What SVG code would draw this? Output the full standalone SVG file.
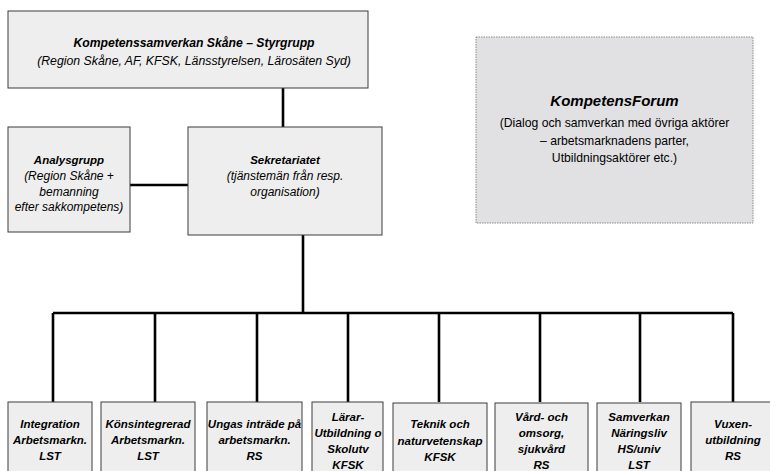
<svg xmlns="http://www.w3.org/2000/svg" width="770" height="471" viewBox="0 0 770 471">
<style>
.box{fill:#eeeeee;stroke:#3c3c3c;stroke-width:1}
.forum{fill:#e1e1e3;stroke:#8a8a8a;stroke-width:1;stroke-dasharray:1.5 1}
.conn{stroke:#000;stroke-width:2.6;fill:none}
text{font-family:"Liberation Sans",Arial,sans-serif;fill:#000;text-anchor:middle}
.b{font-weight:bold;font-style:italic;font-size:11.5px}
.i{font-style:italic;font-size:12px}
.r{font-size:12.2px}
.t{font-weight:bold;font-style:italic;font-size:15px}
</style>
<rect width="770" height="471" fill="#ffffff"/>
<g id="connectors">
<path class="conn" d="M283 88V127"/>
<path class="conn" d="M130 185H188"/>
<path class="conn" d="M303 235V313"/>
<path class="conn" d="M53 313H733"/>
<path class="conn" d="M53 313V402M155 313V402M257 313V402M348 313V402M439 313V402M540 313V402M640 313V402M733 313V402"/>
</g>
<g id="styrgrupp">
<rect class="box" x="8" y="11" width="360" height="77"/>
<text class="b" x="194" y="47" style="font-size:12.2px">Kompetenssamverkan Skåne – Styrgrupp</text>
<text class="i" x="194" y="65" style="font-size:12.3px">(Region Skåne, AF, KFSK, Länsstyrelsen, Lärosäten Syd)</text>
</g>
<g id="forum">
<rect class="forum" x="476" y="37" width="277" height="186"/>
<text class="t" x="614.5" y="106">KompetensForum</text>
<text class="r" x="614.5" y="127">(Dialog och samverkan med övriga aktörer</text>
<text class="r" x="614.5" y="145">– arbetsmarknadens parter,</text>
<text class="r" x="614.5" y="162">Utbildningsaktörer etc.)</text>
</g>
<g id="analysgrupp">
<rect class="box" x="8" y="127" width="122" height="105"/>
<text class="b" x="69" y="164">Analysgrupp</text>
<text class="i" x="69" y="180">(Region Skåne +</text>
<text class="i" x="69" y="196">bemanning</text>
<text class="i" x="69" y="211">efter sakkompetens)</text>
</g>
<g id="sekretariatet">
<rect class="box" x="188" y="127" width="194" height="108"/>
<text class="b" x="285" y="164">Sekretariatet</text>
<text class="i" x="285" y="180">(tjänstemän från resp.</text>
<text class="i" x="285" y="196">organisation)</text>
</g>
<g id="integration">
<rect class="box" x="8" y="402" width="84" height="80"/>
<text class="b" x="50" y="428">Integration</text>
<text class="b" x="50" y="444">Arbetsmarkn.</text>
<text class="b" x="50" y="460">LST</text>
</g>
<g id="konsintegrerad">
<rect class="box" x="101" y="402" width="94" height="80"/>
<text class="b" x="148" y="428">Könsintegrerad</text>
<text class="b" x="148" y="444">Arbetsmarkn.</text>
<text class="b" x="148" y="460">LST</text>
</g>
<g id="ungas">
<rect class="box" x="207" y="402" width="95" height="80"/>
<text class="b" x="254.5" y="428">Ungas inträde på</text>
<text class="b" x="254.5" y="444">arbetsmarkn.</text>
<text class="b" x="254.5" y="460">RS</text>
</g>
<g id="larar">
<rect class="box" x="312" y="402" width="71" height="80"/>
<text class="b" x="348" y="421">Lärar-</text>
<text class="b" x="348" y="437">Utbildning o</text>
<text class="b" x="348" y="453">Skolutv</text>
<text class="b" x="348" y="469">KFSK</text>
</g>
<g id="teknik">
<rect class="box" x="393" y="403" width="94" height="80"/>
<text class="b" x="440" y="428">Teknik och</text>
<text class="b" x="440" y="445">naturvetenskap</text>
<text class="b" x="440" y="461">KFSK</text>
</g>
<g id="vard">
<rect class="box" x="495" y="403" width="93" height="80"/>
<text class="b" x="541.5" y="421">Vård- och</text>
<text class="b" x="541.5" y="437">omsorg,</text>
<text class="b" x="541.5" y="453">sjukvård</text>
<text class="b" x="541.5" y="469">RS</text>
</g>
<g id="samverkan">
<rect class="box" x="597" y="403" width="84" height="80"/>
<text class="b" x="639" y="421">Samverkan</text>
<text class="b" x="639" y="437">Näringsliv</text>
<text class="b" x="639" y="453">HS/univ</text>
<text class="b" x="639" y="469">LST</text>
</g>
<g id="vuxen">
<rect class="box" x="691" y="402" width="85" height="80"/>
<text class="b" x="733" y="428">Vuxen-</text>
<text class="b" x="733" y="444">utbildning</text>
<text class="b" x="733" y="460">RS</text>
</g>
</svg>
